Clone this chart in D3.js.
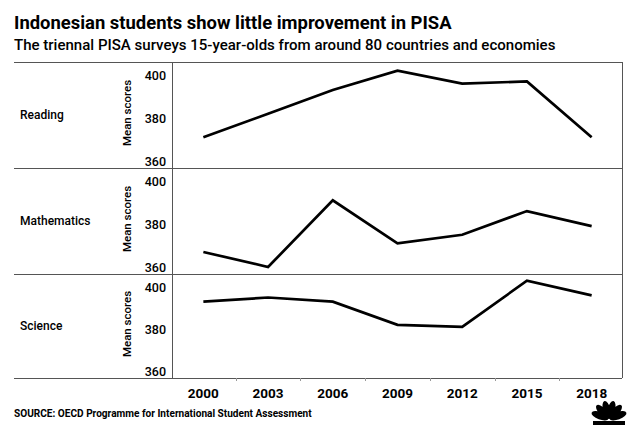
<!DOCTYPE html>
<html><head><meta charset="utf-8">
<script src="https://cdn.jsdelivr.net/npm/d3@7"></script>
<style>
html,body{margin:0;padding:0;background:#fff;}
svg{display:block;font-family:Roboto,"Noto Sans",sans-serif;}
</style></head>
<body><svg id="c" width="630" height="425"></svg>
<script>
const years = [2000, 2003, 2006, 2009, 2012, 2015, 2018];
const subjects = ["Reading", "Mathematics", "Science"];
const reading = [371, 382, 393, 402, 396, 397, 371];
const mathematics = [367, 360, 391, 371, 375, 386, 379];
const science = [393, 395, 393, 382, 381, 403, 396];
const yTicks = [360, 380, 400];
const titleText = "Indonesian students show little improvement in PISA";
const subtitleText = "The triennal PISA surveys 15-year-olds from around 80 countries and economies";
const sourceText = "SOURCE: OECD Programme for International Student Assessment";
const yLabel = "Mean scores";

const series = [reading, mathematics, science];
const svg = d3.select("#c");
const left = 172, right = 622, lineLeft = 14;
const panelTops = [62, 168, 274];
const panelBottoms = [168, 274, 378];

function fit(sel, target) {
  const w = sel.node().getComputedTextLength();
  const fs = parseFloat(sel.attr("font-size"));
  sel.attr("font-size", fs * target / w);
}

// title
const t = svg.append("text").attr("x", 14).attr("y", 29).attr("font-size", 20)
  .attr("font-weight", 700).attr("fill", "#000").text(titleText);
fit(t, 438);
const st = svg.append("text").attr("x", 14).attr("y", 50).attr("font-size", 14)
  .attr("font-weight", 500).attr("fill", "#000").text(subtitleText);
fit(st, 542);

const x = d3.scaleBand().domain(years).range([171, 624]).padding(0);

series.forEach((vals, i) => {
  const top = panelTops[i], bot = panelBottoms[i];
  const y = d3.scaleLinear().domain([360, 400]).range([bot - 7, top + 13]);
  const g = svg.append("g");
  g.append("text").attr("x", 20).attr("y", (top + bot) / 2).attr("dy", "0.35em")
    .attr("font-size", 12).attr("font-weight", 500).attr("fill", "#000").text(subjects[i]);
  g.append("text").attr("transform", `translate(${131},${(top + bot) / 2 - 2}) rotate(-90)`)
    .attr("text-anchor", "middle").attr("font-size", 11.5).attr("font-weight", 500)
    .attr("fill", "#000").text(yLabel);
  const ax = d3.axisLeft(y).tickValues(yTicks).tickSize(0).tickPadding(6).tickFormat(d3.format("d"));
  const ag = g.append("g").attr("transform", `translate(${left},0)`).call(ax);
  ag.select(".domain").remove();
  ag.selectAll("text").attr("font-size", 12.5).attr("font-weight", 500)
    .attr("fill", "#000").attr("font-family", "Roboto,sans-serif");
  const line = d3.line().x((d, j) => x(years[j]) + x.bandwidth() / 2).y(d => y(d));
  g.append("path").datum(vals).attr("d", line).attr("fill", "none")
    .attr("stroke", "#000").attr("stroke-width", 2.7).attr("stroke-linejoin", "miter");
});

// grid lines
const hl = [62, 168, 274, 378];
svg.selectAll(".hl").data(hl).enter().append("line")
  .attr("x1", lineLeft).attr("x2", right).attr("y1", d => d + 0.5).attr("y2", d => d + 0.5)
  .attr("stroke", "#555").attr("stroke-width", 1);
svg.append("line").attr("x1", left + 0.5).attr("x2", left + 0.5).attr("y1", 62).attr("y2", 378)
  .attr("stroke", "#555");
svg.append("line").attr("x1", right + 0.5).attr("x2", right + 0.5).attr("y1", 62).attr("y2", 378)
  .attr("stroke", "#555");

// x axis
const xa = d3.axisBottom(x).tickSize(0).tickPadding(10);
const xg = svg.append("g").attr("transform", "translate(0,378)").call(xa);
xg.select(".domain").remove();
xg.selectAll("text").attr("font-size", 13.5).attr("font-weight", 700)
  .attr("fill", "#000").attr("font-family", "Roboto,sans-serif");
xg.selectAll(".bt").data(years.slice(1)).enter().append("line")
  .attr("x1", d => Math.round(x(d)) + 0.5).attr("x2", d => Math.round(x(d)) + 0.5).attr("y1", 0).attr("y2", 3)
  .attr("stroke", "#999");

// source
const so = svg.append("text").attr("x", 14).attr("y", 417).attr("font-size", 8)
  .attr("font-weight", 700).attr("fill", "#000").text(sourceText);
fit(so, 298);

// logo (peacock)
const lg = svg.append("g").attr("transform", "translate(609,419)");
[-70, -42, -14, 14, 42, 70].forEach(a => {
  lg.append("ellipse").attr("cx", 0).attr("cy", -9.5).attr("rx", 3.8).attr("ry", 9)
    .attr("transform", `rotate(${a})`).attr("fill", "#000");
});
lg.append("rect").attr("x", -16).attr("y", 2).attr("width", 32).attr("height", 6).attr("fill", "#000");
</script></body></html>
